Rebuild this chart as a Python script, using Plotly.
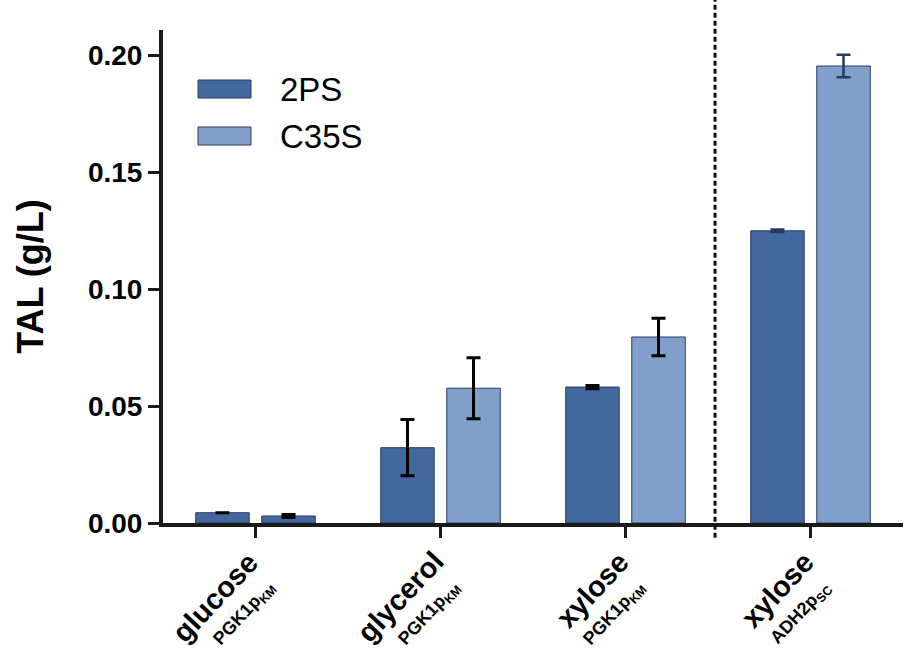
import plotly.graph_objects as go

# ---- data ----
carbon_sources = ["glucose", "glycerol", "xylose", "xylose"]
promoters = ["PGK1p<sub>KM</sub>", "PGK1p<sub>KM</sub>", "PGK1p<sub>KM</sub>", "ADH2p<sub>SC</sub>"]
series_names = ["2PS", "C35S"]
tal_2ps = [0.0044, 0.0322, 0.0581, 0.1249]
err_2ps = [None, 0.0120, 0.0007, 0.0005]
tal_c35s = [0.0030, 0.0576, 0.0795, 0.1953]
err_c35s = [0.0006, 0.0130, 0.0080, 0.0048]
y_ticks = [0.0, 0.05, 0.10, 0.15, 0.20]

FONT = "Liberation Sans, Arial, sans-serif"
DARK = "rgb(66,104,158)"
LIGHT = "rgb(128,160,203)"
EDGE = "rgb(42,62,98)"
NAVY = "rgb(38,58,92)"

xpos = list(range(len(carbon_sources)))

fig = go.Figure()

def add(name, xs, ys, es, color, group, ecolor, thick):
    fig.add_trace(go.Bar(
        name=name, x=xs, y=ys, offsetgroup=group, showlegend=False,
        marker=dict(color=color, line=dict(color=EDGE, width=1)),
        error_y=dict(type="data", array=es, visible=True, color=ecolor,
                     thickness=thick, width=7),
    ))

# PGK1p groups (black error bars); the tiny glucose C35S bar renders dark in the original
add(series_names[0], xpos[:3], tal_2ps[:3], err_2ps[:3], DARK, "a", "black", 3)
add(series_names[1], xpos[:3], tal_c35s[:3], err_c35s[:3], [DARK, LIGHT, LIGHT], "b", "black", 3)
# ADH2p group (navy error bars)
add(series_names[0], xpos[3:], tal_2ps[3:], err_2ps[3:], DARK, "a", NAVY, 2.5)
add(series_names[1], xpos[3:], tal_c35s[3:], err_c35s[3:], LIGHT, "b", NAVY, 2.5)

fig.update_layout(
    width=905, height=649,
    margin=dict(l=163, r=2, t=30, b=126),
    plot_bgcolor="white", paper_bgcolor="white",
    barmode="group", bargap=0.286, bargroupgap=0.19,
    font=dict(family=FONT, color="black"),
    showlegend=False,
)
fig.update_xaxes(
    range=[-0.5, 3.5], tickmode="array", tickvals=xpos, showticklabels=False,
    showline=True, linecolor="#1a1a1a", linewidth=4,
    ticks="outside", ticklen=11, tickwidth=3, tickcolor="#1a1a1a",
    showgrid=False, zeroline=False, automargin=False,
)
fig.update_yaxes(
    range=[0, 0.2107], tickmode="array", tickvals=y_ticks, tickformat=".2f",
    tickfont=dict(size=28, family=FONT, color="black", weight="bold"),
    title=dict(text="<b>TAL (g/L)</b>", font=dict(size=36, family=FONT, color="black"),
               standoff=34),
    showline=True, linecolor="#1a1a1a", linewidth=4,
    ticks="outside", ticklen=11, tickwidth=3, tickcolor="#1a1a1a",
    showgrid=False, zeroline=False, automargin=False,
)

# rotated two-line category labels
for xi, src, prom in zip(xpos, carbon_sources, promoters):
    fig.add_annotation(xref="x", yref="paper", x=xi, y=-0.0405, xshift=12,
                       text=f"<b>{src}</b>", showarrow=False, textangle=-47,
                       xanchor="right", yanchor="top",
                       font=dict(size=29, family=FONT, color="black"))
    fig.add_annotation(xref="x", yref="paper", x=xi, y=-0.1034, xshift=28,
                       text=f"<b>{prom}</b>", showarrow=False, textangle=-47,
                       xanchor="right", yanchor="top",
                       font=dict(size=18, family=FONT, color="black"))

# dashed separator between groups
fig.add_shape(type="line", xref="x", yref="paper", x0=2.484, x1=2.484,
              y0=-0.03, y1=1.065, line=dict(color="#111", width=3, dash="5px,3px"))

# manual legend
leg_colors = [DARK, LIGHT]
leg_y = [(0.862, 0.8986), (0.7667, 0.8032)]
for name, col, (y0, y1) in zip(series_names, leg_colors, leg_y):
    fig.add_shape(type="rect", xref="paper", yref="paper", x0=0.0473, x1=0.1189,
                  y0=y0, y1=y1, fillcolor=col, line=dict(color=EDGE, width=1))
    fig.add_annotation(xref="paper", yref="paper", x=0.1554, y=(y0 + y1) / 2,
                       text=name, showarrow=False, xanchor="left", yanchor="middle",
                       font=dict(size=33, family=FONT, color="black"))

fig.write_html("out.html", config={"displayModeBar": False},
               post_script="document.body.style.margin='0';document.body.style.overflow='hidden';")
